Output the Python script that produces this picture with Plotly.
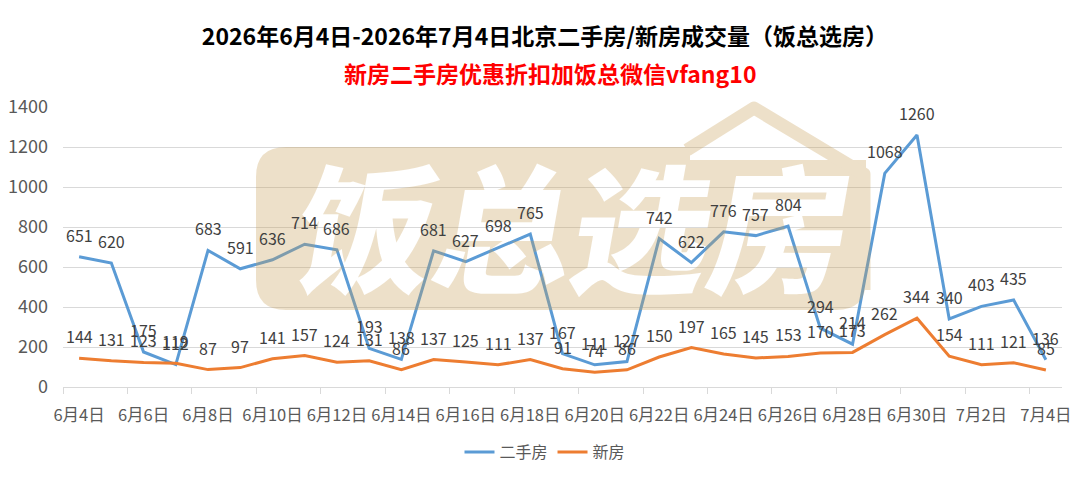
import base64
import plotly.graph_objects as go

# ---------------- data ----------------
dates = ["6月4日", "6月5日", "6月6日", "6月7日", "6月8日", "6月9日", "6月10日", "6月11日",
         "6月12日", "6月13日", "6月14日", "6月15日", "6月16日", "6月17日", "6月18日", "6月19日",
         "6月20日", "6月21日", "6月22日", "6月23日", "6月24日", "6月25日", "6月26日", "6月27日",
         "6月28日", "6月29日", "6月30日", "7月1日", "7月2日", "7月3日", "7月4日"]
second_hand = [651, 620, 175, 112, 683, 591, 636, 714, 686, 193, 138, 681, 627, 698, 765, 167,
               111, 127, 742, 622, 776, 757, 804, 294, 214, 1068, 1260, 340, 403, 435, 136]
new_house = [144, 131, 123, 119, 87, 97, 141, 157, 124, 131, 86, 137, 125, 111, 137, 91,
             74, 86, 150, 197, 165, 145, 153, 170, 173, 262, 344, 154, 111, 121, 85]
series_names = ["二手房", "新房"]
y_ticks = [0, 200, 400, 600, 800, 1000, 1200, 1400]

title_text = "2026年6月4日-2026年7月4日北京二手房/新房成交量（饭总选房）"
subtitle_text = "新房二手房优惠折扣加饭总微信vfang10"
watermark_text = "饭总选房"

idx = list(range(len(dates)))
label_idx = idx[::2]
label_txt = [dates[i] for i in label_idx]

FONT = "Noto Sans CJK SC, Microsoft YaHei, sans-serif"
BLUE = "#5b9bd5"
ORANGE = "#ed7d31"
GRID = "#d9d9d9"
TXT = "#404040"

# page body has an 8px margin; all page coordinates below are converted
OFF = 8
W, H = 1080 - OFF, 478 - OFF
L, T = 63 - OFF, 107 - OFF
R = W - (1062 - OFF)
B = H - (387 - OFF)
pw, ph = W - L - R, H - T - B


def px_x(page_x):
    return (page_x - OFF - L) / pw


def px_y(page_y):
    return (H - B - (page_y - OFF)) / ph


fig = go.Figure()
fig.add_trace(go.Scatter(
    x=idx, y=second_hand, name=series_names[0], mode="lines",
    line=dict(color=BLUE, width=3),
))
fig.add_trace(go.Scatter(
    x=idx, y=new_house, name=series_names[1], mode="lines",
    line=dict(color=ORANGE, width=3),
))

# data labels placed at the data points, shifted upward like Excel's "above" labels
annotations = []
for series in (second_hand, new_house):
    for i, v in zip(idx, series):
        annotations.append(dict(
            x=i, y=v, xref="x", yref="y", text=str(v), showarrow=False,
            xanchor="center", yanchor="middle", yshift=22,
            font=dict(size=16, color=TXT, family=FONT),
        ))

# ---------------- watermark (svg image with text holes) ----------------
svg = f'''<svg xmlns="http://www.w3.org/2000/svg" width="630" height="220" viewBox="0 0 630 220" preserveAspectRatio="none">
<defs><mask id="m" maskUnits="userSpaceOnUse" x="0" y="0" width="630" height="220">
<rect x="0" y="0" width="630" height="220" fill="white"/>
<text x="325" y="182" text-anchor="middle" font-family="Noto Sans CJK SC" font-weight="900"
 font-size="138" fill="black" transform="skewX(-10) translate(22,0)">{watermark_text}</text>
</mask></defs>
<g opacity="0.32" mask="url(#m)">
<path d="M36,47 L440,47 L440,60 L616,60 L616,180 Q616,210 586,210 L36,210 Q6,210 6,180 L6,77 Q6,47 36,47 Z" fill="rgb(200,160,90)"/>
<polyline points="437,50 504,8 614,74 614,190" fill="none" stroke="rgb(200,160,90)" stroke-width="13" stroke-linejoin="round"/>
</g>
</svg>'''
uri = "data:image/svg+xml;base64," + base64.b64encode(svg.encode("utf-8")).decode("ascii")

fig.add_layout_image(dict(
    source=uri, xref="paper", yref="paper",
    x=px_x(250), y=px_y(100), sizex=630 / pw, sizey=220 / ph,
    xanchor="left", yanchor="top", sizing="stretch", layer="above", opacity=1,
))

annotations.append(dict(text="<b>" + subtitle_text + "</b>", xref="paper", yref="paper",
                        x=px_x(550), y=px_y(73), xanchor="center", yanchor="middle",
                        showarrow=False, font=dict(size=23, color="#ff0000", family=FONT)))

fig.update_layout(
    width=W, height=H,
    margin=dict(l=L, r=R, t=T, b=B, autoexpand=False),
    paper_bgcolor="white", plot_bgcolor="white",
    font=dict(family=FONT, color="#595959"),
    title=dict(text="<b>" + title_text + "</b>", x=px_x(545), xref="paper", xanchor="center",
               y=1 - (37 - OFF) / H, yref="container", yanchor="middle",
               font=dict(size=23, color="#000000", family=FONT)),
    annotations=annotations,
    showlegend=True,
    legend=dict(orientation="h", x=px_x(545), xanchor="center", y=px_y(452), yanchor="middle",
                font=dict(size=16, color="#595959", family=FONT), itemwidth=30,
                bgcolor="rgba(0,0,0,0)"),
)
fig.update_xaxes(
    range=[-0.5, len(dates) - 0.5], tickmode="array", tickvals=label_idx, ticktext=label_txt,
    ticks="", showgrid=False, zeroline=False, showline=True, linecolor=GRID, linewidth=1,
    tickfont=dict(size=16.5, color="#595959", family=FONT), ticklabelstandoff=13,
    minor=dict(tick0=-0.5, dtick=2, ticks="outside", ticklen=6, tickcolor=GRID, showgrid=False),
    automargin=False,
)
fig.update_yaxes(
    range=[0, 1400], tickmode="array", tickvals=y_ticks, showgrid=True, gridcolor=GRID,
    gridwidth=1, zeroline=False, showline=False, ticks="",
    tickfont=dict(size=18, color="#595959", family=FONT), ticklabelstandoff=14,
    automargin=False,
)

fig.write_html("out.html")
